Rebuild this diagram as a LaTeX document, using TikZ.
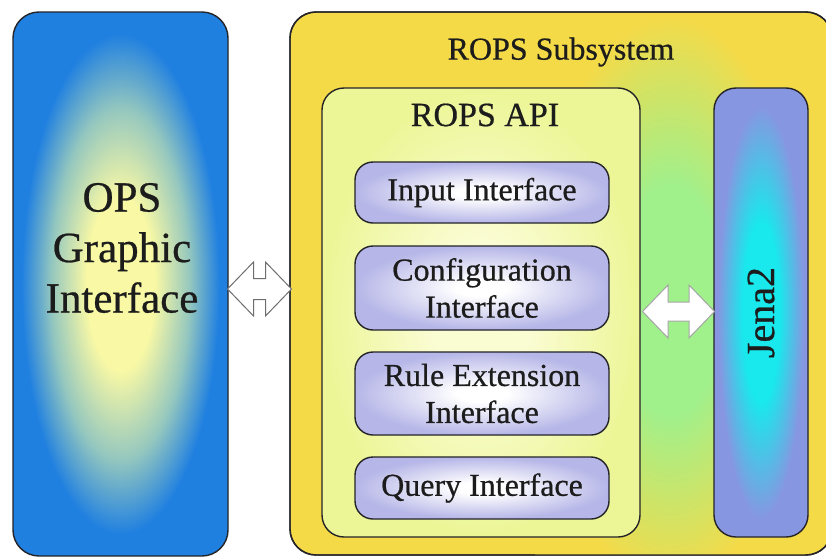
\documentclass[tikz,border=0pt]{standalone}
\usepackage{fontspec}
\setmainfont{Liberation Serif}
\newfontfamily\dfont{Liberation Serif}[FakeBold=0.6]
\usetikzlibrary{calc}
\definecolor{opsin}{RGB}{248,248,165}
\definecolor{opsmid}{RGB}{150,200,190}
\definecolor{opsout}{RGB}{32,128,224}
\definecolor{ropsyel}{RGB}{245,218,72}
\definecolor{ropsgrn}{RGB}{160,240,140}
\definecolor{apiin}{RGB}{250,252,210}
\definecolor{apiout}{RGB}{236,246,150}
\definecolor{lav}{RGB}{182,182,232}
\definecolor{jcyan}{RGB}{25,232,236}
\definecolor{jperi}{RGB}{135,150,225}
\definecolor{edge}{RGB}{35,35,40}
\definecolor{txt}{RGB}{28,28,28}
\pgfdeclareradialshading{opsshade}{\pgfpoint{0bp}{0bp}}{color(0bp)=(opsin); color(8bp)=(opsin); color(16bp)=(opsmid); color(23bp)=(opsout); color(50bp)=(opsout)}
\pgfdeclareradialshading{grnshade}{\pgfpoint{0bp}{0bp}}{color(0bp)=(ropsgrn); color(10bp)=(ropsgrn); color(25bp)=(ropsyel); color(50bp)=(ropsyel)}
\pgfdeclareradialshading{apishade}{\pgfpoint{0bp}{0bp}}{color(0bp)=(apiin); color(8bp)=(apiin); color(25bp)=(apiout); color(50bp)=(apiout)}
\pgfdeclareradialshading{lavshade}{\pgfpoint{0bp}{0bp}}{color(0bp)=(white); color(5bp)=(white); color(25bp)=(lav); color(50bp)=(lav)}
\pgfdeclareradialshading{jenashade}{\pgfpoint{0bp}{0bp}}{color(0bp)=(jcyan); color(10bp)=(jcyan); color(23bp)=(jperi); color(50bp)=(jperi)}
\tikzset{
  box/.style={draw=edge, line width=1.4pt, inner sep=0pt, outer sep=0pt},
  ifbox/.style={box, rounded corners=18pt, shade, shading=lavshade, minimum width=254pt, text=txt, align=center, font=\dfont\fontsize{32}{37}\selectfont},
  blockarrow/.style={fill=white, line width=1pt, line join=miter},
}
\begin{document}
\begin{tikzpicture}[x=1pt,y=-1pt]
\useasboundingbox (0,0) rectangle (826,557);
\clip (0,0) rectangle (826,557);
\fill[white] (0,0) rectangle (826,557);
% left box
\node[box, rounded corners=26pt, shade, shading=opsshade, minimum width=215pt, minimum height=544pt] (ops) at (120.5,284) {};
\node[text=txt, align=center, font=\dfont\fontsize{43}{50.5}\selectfont] (opslabel) at (122,248) {OPS\\Graphic\\Interface};
% ROPS subsystem
\node[box, rounded corners=26pt, fill=ropsyel, minimum width=542pt, minimum height=543pt] (rops) at (561,283.5) {};
\begin{scope}
\clip[rounded corners=26pt] (rops.north west) rectangle (rops.south east);
\shade[shading=grnshade] (535,15) rectangle (805,585);
\end{scope}
\draw[draw=edge, line width=1.4pt, rounded corners=26pt] (rops.north west) rectangle (rops.south east);
\node[text=txt, font=\dfont\fontsize{32}{36}\selectfont] (ropslabel) at (561,52) {ROPS Subsystem};
% API
\node[box, rounded corners=22pt, shade, shading=apishade, minimum width=318pt, minimum height=449pt] (api) at (481,312.5) {};
\node[text=txt, font=\dfont\fontsize{34}{38}\selectfont] (apilabel) at (485,115) {ROPS API};
% interfaces
\node[ifbox, minimum height=61pt] (input) at (482,192.5) {Input Interface};
\node[ifbox, minimum height=84pt] (config) at (482,288) {Configuration\\Interface};
\node[ifbox, minimum height=83pt] (rule) at (482,393.5) {Rule Extension\\Interface};
\node[ifbox, minimum height=62pt] (query) at (482,488) {Query Interface};
% Jena
\node[box, rounded corners=22pt, shade, shading=jenashade, minimum width=94pt, minimum height=449pt] (jena) at (761,312.5) {};
\node[text=txt, rotate=90, font=\dfont\fontsize{40}{44}\selectfont] (jlabel) at (jena.center) {Jena2};
% arrows
\coordinate (la) at (259.5,289);
\coordinate (ra) at (678.5,311.5);
\begin{scope}[shift={(la)}]
\draw[blockarrow, draw={rgb,255:red,110;green,110;blue,110}] (-32,0) -- (-6,-27) -- (-6,-10.5) -- (6,-10.5) -- (6,-27) -- (32,0) -- (6,27) -- (6,10.5) -- (-6,10.5) -- (-6,27) -- cycle;
\end{scope}
\begin{scope}[shift={(ra)}]
\draw[blockarrow, draw={rgb,255:red,165;green,165;blue,165}] (-36,0) -- (-10.5,-26.5) -- (-10.5,-9.5) -- (10.5,-9.5) -- (10.5,-26.5) -- (36,0) -- (10.5,26.5) -- (10.5,9.5) -- (-10.5,9.5) -- (-10.5,26.5) -- cycle;
\end{scope}
\end{tikzpicture}
\end{document}
